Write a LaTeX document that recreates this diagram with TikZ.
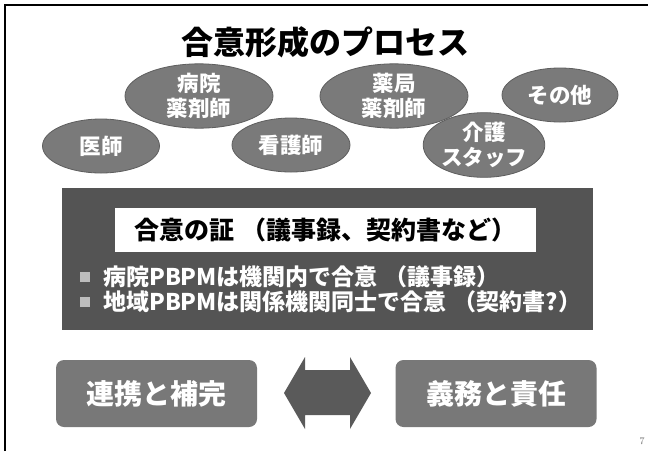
\documentclass[tikz,border=0pt]{standalone}
\usepackage{fontspec}
\newfontfamily\cjk{Noto Sans CJK JP}
\usetikzlibrary{shapes.geometric}
\definecolor{ellfill}{HTML}{7A7A7A}
\definecolor{ellline}{HTML}{5E5E5E}
\definecolor{darkbox}{HTML}{545454}
\definecolor{botbox}{HTML}{787878}
\definecolor{arrowfill}{HTML}{5A5A5A}
\definecolor{bulletgray}{HTML}{BDBDBD}
\tikzset{
  ell/.style={ellipse, fill=ellfill, draw=ellline, line width=0.8pt, inner sep=0pt,
    text=white, align=center, font=\cjk\bfseries\fontsize{21.5}{25}\selectfont},
  bottombox/.style={rounded corners=8pt, fill=botbox, minimum width=201pt, minimum height=67pt,
    text=white, font=\cjk\bfseries\fontsize{28}{30}\selectfont},
  bullettext/.style={anchor=west, text=white, inner sep=0pt, font=\cjk\bfseries\fontsize{23}{25}\selectfont},
  bulletsq/.style={fill=bulletgray, minimum size=10pt, inner sep=0pt}
}
\begin{document}
\begin{tikzpicture}[x=1pt,y=-1pt]
\useasboundingbox (0,0) rectangle (648,451);
\fill[white] (0,0) rectangle (648,451);
\draw[line width=2pt] (5,451) -- (5,5) -- (648,5);
\node[font=\cjk\bfseries\fontsize{32}{34}\selectfont] (title) at (325,42) {合意形成のプロセス};
% upper ellipses
\node[ell, minimum width=148pt, minimum height=57pt] (byoin) at (199,96) {病院\\薬剤師};
\node[ell, minimum width=148pt, minimum height=57pt] (yakkyoku) at (394,96) {薬局\\薬剤師};
\node[ell, minimum width=116pt, minimum height=54pt] (sonota) at (560,95) {その他};
% lower ellipses
\node[ell, minimum width=117pt, minimum height=54pt] (ishi) at (101,146) {医師};
\node[ell, minimum width=118pt, minimum height=54pt] (kango) at (291,145) {看護師};
\node[ell, minimum width=115pt, minimum height=56pt] (kaigo) at (484,145) {介護\\スタッフ};
% dark box
\node[fill=darkbox, minimum width=531pt, minimum height=142pt, inner sep=0pt] (evidence) at (327.5,259) {};
\node[fill=white, minimum width=421pt, minimum height=44pt, inner sep=0pt,
  font=\cjk\bfseries\fontsize{25}{27}\selectfont] (shou) at (325.5,230) {合意の証\hspace{0.3em}（議事録、契約書など）};
\node[bulletsq] (b1) at (85,277) {};
\node[bulletsq] (b2) at (85,302) {};
\node[bullettext] (t1) at (103,277) {病院PBPMは機関内で合意\hspace{0.3em}（議事録）};
\node[bullettext] (t2) at (103,302) {地域PBPMは関係機関同士で合意\hspace{0.3em}（契約書?）};
% bottom
\node[bottombox] (renkei) at (156.5,393.5) {連携と補完};
\node[bottombox] (gimu) at (496,393.5) {義務と責任};
\fill[arrowfill] (284,393) -- (305,357) -- (305,370) -- (350,370) -- (350,357) -- (371,393)
  -- (350,429) -- (350,415) -- (305,415) -- (305,429) -- cycle;
\node[text=black!60, font=\fontsize{10}{11}\selectfont] (page) at (642,441) {7};
\end{tikzpicture}
\end{document}
